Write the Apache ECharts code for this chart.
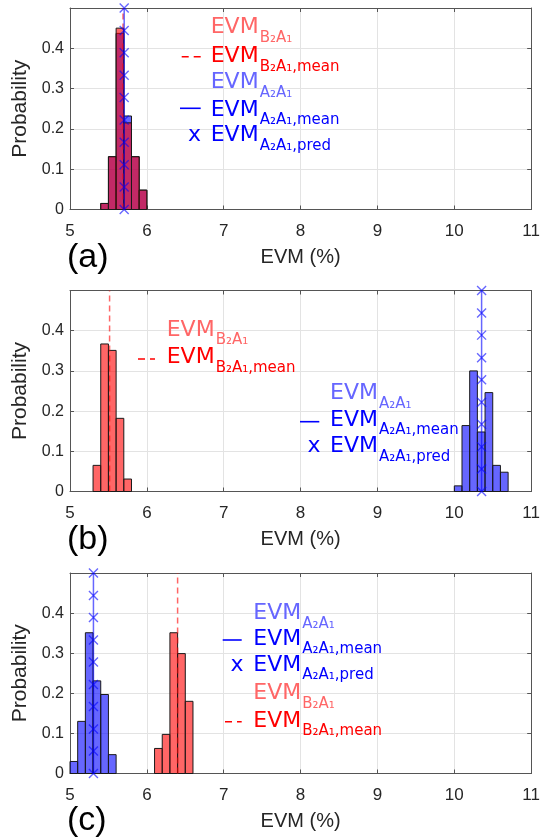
<!DOCTYPE html>
<html><head><meta charset="utf-8">
<script src="https://cdn.jsdelivr.net/npm/echarts@6/dist/echarts.min.js"></script>
<style>html,body{margin:0;padding:0;background:#fff}#c{width:543px;height:838px}</style>
</head><body><div id="c"></div>
<script>
// ---------- data ----------
const binWidth = 0.1;
const xMin = 5, xMax = 11, xStep = 1;
const yMin = 0, yMax = 0.5, yStep = 0.1;
const predY = [0, 0.056, 0.111, 0.167, 0.222, 0.278, 0.333, 0.389, 0.444, 0.5];

// panel (a)
const aRedBins = [5.4, 5.5, 5.6, 5.7, 5.8, 5.9];
const aRedProb = [0.015, 0.131, 0.45, 0.215, 0.131, 0.048];
const aBlueBins = [5.4, 5.5, 5.6, 5.7, 5.8, 5.9];
const aBlueProb = [0.015, 0.131, 0.437, 0.232, 0.131, 0.048];
const aRedMean = 5.69;
const aBlueMean = 5.705;

// panel (b)
const bRedBins = [5.3, 5.4, 5.5, 5.6, 5.7];
const bRedProb = [0.065, 0.367, 0.351, 0.182, 0.031];
const bBlueBins = [10.0, 10.1, 10.2, 10.3, 10.4, 10.5, 10.6];
const bBlueProb = [0.014, 0.164, 0.300, 0.148, 0.246, 0.065, 0.048];
const bRedMean = 5.515;
const bBlueMean = 10.355;

// panel (c)
const cBlueBins = [5.0, 5.1, 5.2, 5.3, 5.4, 5.5];
const cBlueProb = [0.03, 0.13, 0.351, 0.231, 0.197, 0.047];
const cRedBins = [6.1, 6.2, 6.3, 6.4, 6.5];
const cRedProb = [0.0625, 0.0975, 0.351, 0.299, 0.18];
const cRedMean = 6.4;
const cBlueMean = 5.305;

const xName = 'EVM (%)';
const yName = 'Probability';
const panelLabels = ['(a)', '(b)', '(c)'];

// ---------- styles ----------
const RED_FILL = 'rgba(255,0,0,0.6)';
const BLUE_FILL = 'rgba(0,0,255,0.6)';
const LIGHT_RED = '#ff6666';
const LIGHT_BLUE = '#6666ff';
const AX = '#262626';
const FONT = "'Liberation Sans', Arial, sans-serif";
const LFONT = "'DejaVu Sans', Verdana, sans-serif";

const grids = [
  {left: 70, right: 9, top: 8, height: 201.5},
  {left: 70, right: 9, top: 290.5, height: 201},
  {left: 70, right: 9, top: 573, height: 200.5}
];

const xAxes = [], yAxes = [];
grids.forEach((g, i) => {
  xAxes.push({
    type: 'value', gridIndex: i, min: xMin, max: xMax, interval: xStep,
    name: xName, nameLocation: 'middle', nameGap: 38,
    nameTextStyle: {fontFamily: FONT, fontSize: 20, color: AX},
    axisLine: {show: true, onZero: false, lineStyle: {color: '#555', width: 1}},
    axisTick: {show: true, inside: true, length: 4, lineStyle: {color: '#555'}},
    axisLabel: {fontFamily: FONT, fontSize: 17, color: AX, margin: 13},
    splitLine: {show: true, lineStyle: {color: '#e3e3e3', width: 1}}
  });
  yAxes.push({
    type: 'value', gridIndex: i, min: yMin, max: yMax, interval: yStep,
    name: yName, nameLocation: 'middle', nameGap: 34, nameRotate: 90,
    nameTextStyle: {fontFamily: FONT, fontSize: 21, color: AX},
    axisLine: {show: true, onZero: false, lineStyle: {color: '#555', width: 1}},
    axisTick: {show: true, inside: true, length: 4, lineStyle: {color: '#555'}},
    axisLabel: {fontFamily: FONT, fontSize: 16, color: AX, margin: 6, showMaxLabel: false,
      formatter: v => (v === 0 ? '0' : String(+v.toFixed(1)))},
    splitLine: {show: true, lineStyle: {color: '#e3e3e3', width: 1}}
  });
});
grids.forEach((g, i) => {
  xAxes.push({
    type: 'value', gridIndex: i, position: 'top', min: xMin, max: xMax, interval: xStep,
    axisLine: {show: true, onZero: false, lineStyle: {color: '#555', width: 1}},
    axisTick: {show: true, inside: true, length: 4, lineStyle: {color: '#555'}},
    axisLabel: {show: false}, splitLine: {show: false}
  });
  yAxes.push({
    type: 'value', gridIndex: i, position: 'right', min: yMin, max: yMax, interval: yStep,
    axisLine: {show: true, onZero: false, lineStyle: {color: '#555', width: 1}},
    axisTick: {show: true, inside: true, length: 4, lineStyle: {color: '#555'}},
    axisLabel: {show: false}, splitLine: {show: false}
  });
});

function hist(bins, probs, color, ai, z) {
  return {
    type: 'custom', xAxisIndex: ai, yAxisIndex: ai, z: z, silent: true,
    data: bins.map((b, k) => [b, +(b + binWidth).toFixed(3), probs[k]]),
    encode: {x: [0, 1], y: 2},
    renderItem: (params, api) => {
      const p0 = api.coord([api.value(0), 0]);
      const p1 = api.coord([api.value(1), api.value(2)]);
      return {
        type: 'rect',
        shape: {x: p0[0], y: p1[1], width: p1[0] - p0[0], height: p0[1] - p1[1]},
        style: {fill: color, stroke: '#1a1a1a', lineWidth: 1}
      };
    }
  };
}
function meanLine(x, ai, z) {
  return {
    type: 'line', xAxisIndex: ai, yAxisIndex: ai, z: z, silent: true,
    data: [[x, yMin], [x, yMax]], symbol: 'none',
    lineStyle: {color: RED_FILL, width: 1.5, type: [6, 4]}
  };
}
function predLine(x, ai, z) {
  return {
    type: 'line', xAxisIndex: ai, yAxisIndex: ai, z: z, silent: true,
    data: predY.map(y => [x, y]),
    symbol: 'path://M0,0L10,10M10,0L0,10', symbolSize: 9, showSymbol: true,
    itemStyle: {color: 'none', borderColor: BLUE_FILL, borderWidth: 1.4},
    lineStyle: {color: BLUE_FILL, width: 1.5}
  };
}

const series = [
  hist(aBlueBins, aBlueProb, BLUE_FILL, 0, 2),
  hist(aRedBins, aRedProb, RED_FILL, 0, 3),
  meanLine(aRedMean, 0, 4),
  predLine(aBlueMean, 0, 5),

  hist(bRedBins, bRedProb, RED_FILL, 1, 2),
  meanLine(bRedMean, 1, 4),
  hist(bBlueBins, bBlueProb, BLUE_FILL, 1, 3),
  predLine(bBlueMean, 1, 5),

  hist(cBlueBins, cBlueProb, BLUE_FILL, 2, 2),
  predLine(cBlueMean, 2, 5),
  hist(cRedBins, cRedProb, RED_FILL, 2, 3),
  meanLine(cRedMean, 2, 4)
];

// ---------- legend (as text graphics) ----------
const graphic = [];
function legText(x, baseline, sub, color) {
  graphic.push({
    type: 'text', x: x, y: baseline - 19.5, silent: true, z: 100,
    style: {
      text: '{m|EVM}{s|' + sub + '}', align: 'left', verticalAlign: 'top',
      rich: {
        m: {fontFamily: LFONT, fontSize: 22, lineHeight: 26, verticalAlign: 'top', fill: color},
        s: {fontFamily: LFONT, fontSize: 15, lineHeight: 15, verticalAlign: 'top', padding: [14, 0, 0, 1], fill: color}
      }
    }
  });
}
function legDash(x1, x2, y) {
  graphic.push({type: 'line', silent: true, z: 100, shape: {x1: x1, y1: y, x2: x2, y2: y},
    style: {stroke: '#ff0000', lineWidth: 1.6, lineDash: [7, 5]}});
}
function legSolid(x1, x2, y) {
  graphic.push({type: 'line', silent: true, z: 100, shape: {x1: x1, y1: y, x2: x2, y2: y},
    style: {stroke: '#0000ff', lineWidth: 1.6}});
}
function legX(xRight, baseline) {
  graphic.push({type: 'text', x: xRight, y: baseline - 19.5, silent: true, z: 100,
    style: {text: '{m|x}', align: 'right', verticalAlign: 'top',
      rich: {m: {fontFamily: LFONT, fontSize: 22, lineHeight: 26, verticalAlign: 'top', fill: '#0000ff'}}}});
}
// (a)
legText(210.7, 36, 'B₂A₁', LIGHT_RED);
legText(210.7, 65, 'B₂A₁,mean', '#ff0000'); legDash(181.7, 200.7, 56.7);
legText(210.7, 90.7, 'A₂A₁', LIGHT_BLUE);
legText(210.7, 118.3, 'A₂A₁,mean', '#0000ff'); legSolid(180, 200.7, 108.3);
legText(210.7, 144, 'A₂A₁,pred', '#0000ff'); legX(201, 144);
// (b)
legText(166.7, 338.3, 'B₂A₁', LIGHT_RED);
legText(166.7, 366, 'B₂A₁,mean', '#ff0000'); legDash(138, 155, 359);
legText(330, 401.7, 'A₂A₁', LIGHT_BLUE);
legText(330, 428.3, 'A₂A₁,mean', '#0000ff'); legSolid(300, 319.3, 421.7);
legText(330, 455, 'A₂A₁,pred', '#0000ff'); legX(320.5, 455);
// (c)
legText(253.3, 621.7, 'A₂A₁', LIGHT_BLUE);
legText(253.3, 647.3, 'A₂A₁,mean', '#0000ff'); legSolid(222.7, 241.7, 640);
legText(253.3, 673.3, 'A₂A₁,pred', '#0000ff'); legX(243.5, 673.3);
legText(253.3, 701.7, 'B₂A₁', LIGHT_RED);
legText(253.3, 729.3, 'B₂A₁,mean', '#ff0000'); legDash(225, 241.7, 721.7);

// panel labels
[258, 540, 821].forEach((cy, i) => {
  graphic.push({type: 'text', x: 67, y: cy, silent: true,
    style: {text: panelLabels[i], fontFamily: FONT, fontSize: 34, fill: '#000', align: 'left', verticalAlign: 'middle'}});
});

const chart = echarts.init(document.getElementById('c'), null, {renderer: 'canvas'});
chart.setOption({
  animation: false,
  backgroundColor: '#fff',
  grid: grids,
  xAxis: xAxes,
  yAxis: yAxes,
  series: series,
  graphic: graphic
});
</script></body></html>
